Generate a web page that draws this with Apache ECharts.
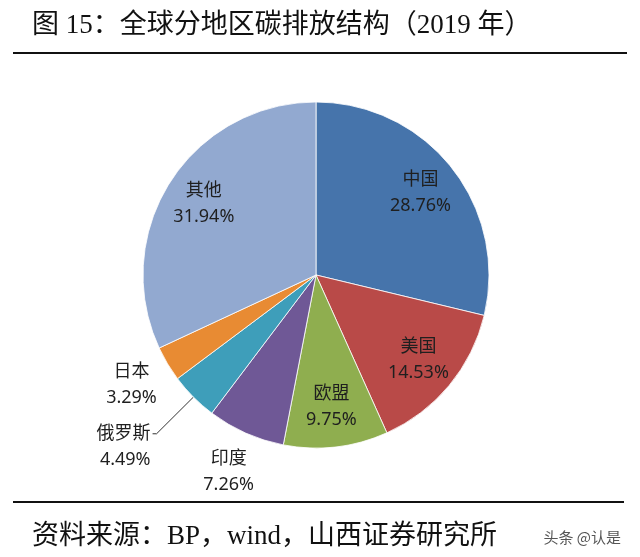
<!DOCTYPE html>
<html>
<head>
<meta charset="utf-8">
<script src="https://cdn.jsdelivr.net/npm/echarts@6/dist/echarts.min.js"></script>
<style>
html,body{margin:0;padding:0;background:#fff;}
#chart{width:640px;height:557px;}
</style>
</head>
<body>
<div id="chart"></div>
<script>
// ---- data ----
var regions = ['中国', '美国', '欧盟', '印度', '俄罗斯', '日本', '其他'];
var shares = [28.76, 14.53, 9.75, 7.26, 4.49, 3.29, 31.94];
var colors = ['#4674AB', '#B94A48', '#8FAE4F', '#6F5896', '#3E9EBA', '#E88B33', '#92A9D0'];
var innerLabelRegions = ['中国', '美国', '欧盟', '其他'];
var outerLabelRegions = ['印度', '日本'];
var leaderLabelRegions = ['俄罗斯'];
var titleText = '图 15：全球分地区碳排放结构（2019 年）';
var sourceText = '资料来源：BP，wind，山西证券研究所';
var watermarkText = '头条 @认是';

var chart = echarts.init(document.getElementById('chart'), null, {renderer: 'canvas'});

var labelFont = {
  fontFamily: '"Noto Sans", "Noto Sans CJK SC", sans-serif',
  fontSize: 18,
  lineHeight: 26,
  color: '#1f1f1f'
};

function buildData(showList, transparent) {
  return regions.map(function (name, i) {
    return {
      name: name,
      value: shares[i],
      itemStyle: transparent ? {color: 'rgba(0,0,0,0)', borderWidth: 0} : {color: colors[i]},
      label: {show: showList.indexOf(name) >= 0},
      labelLine: {show: showList.indexOf(name) >= 0}
    };
  });
}

var center = [316, 275];

var option = {
  backgroundColor: '#ffffff',
  animation: false,
  title: [
    {
      text: titleText, left: 27, top: 7,
      textStyle: {fontFamily: '"Liberation Serif", "Noto Sans CJK SC", serif', fontSize: 27, fontWeight: 'normal', color: '#111'}
    },
    {
      text: sourceText, left: 27, top: 518,
      textStyle: {fontFamily: '"Liberation Serif", "Noto Sans CJK SC", serif', fontSize: 27, fontWeight: 'normal', color: '#111'}
    },
    {
      text: watermarkText, right: 14, top: 525,
      textStyle: {fontFamily: '"Noto Sans CJK SC", sans-serif', fontSize: 15, fontWeight: 'normal', color: '#555'}
    }
  ],
  graphic: [
    {type: 'line', shape: {x1: 13, y1: 53, x2: 627, y2: 53}, style: {stroke: '#111', lineWidth: 2}},
    {type: 'line', shape: {x1: 13, y1: 502, x2: 624, y2: 502}, style: {stroke: '#111', lineWidth: 2}}
  ],
  series: [
    {
      type: 'pie',
      center: center,
      radius: 173,
      startAngle: 90,
      clockwise: true,
      silent: true,
      avoidLabelOverlap: false,
      labelLayout: {hideOverlap: false, moveOverlap: false},
      itemStyle: {borderColor: '#ffffff', borderWidth: 0.8},
      label: Object.assign({position: 'outside', formatter: '\n{b}\n{c}%', distanceToLabelLine: 2}, labelFont),
      labelLine: {show: true, length: 52, length2: 4, lineStyle: {color: '#333', width: 1}},
      data: buildData(leaderLabelRegions, false)
    },
    {
      type: 'pie',
      center: center,
      radius: 260,
      startAngle: 90,
      clockwise: true,
      silent: true,
      z: 3,
      labelLayout: {hideOverlap: false, moveOverlap: false},
      label: Object.assign({position: 'inside', formatter: '{b}\n{c}%'}, labelFont),
      labelLine: {show: false},
      data: buildData(innerLabelRegions, true)
    },
    {
      type: 'pie',
      center: center,
      radius: 424,
      startAngle: 90,
      clockwise: true,
      silent: true,
      z: 3,
      labelLayout: {hideOverlap: false, moveOverlap: false},
      label: Object.assign({position: 'inside', formatter: '{b}\n{c}%'}, labelFont),
      labelLine: {show: false},
      data: buildData(outerLabelRegions, true)
    }
  ]
};
chart.setOption(option);
</script>
</body>
</html>
